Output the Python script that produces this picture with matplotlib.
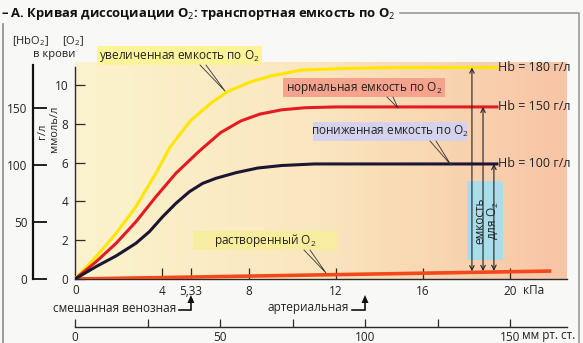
import numpy as np
import matplotlib
matplotlib.use("Agg")
import matplotlib.pyplot as plt
from matplotlib.patches import Rectangle, Polygon

plt.rcParams['font.family'] = ['Open Sans', 'DejaVu Sans']
plt.rcParams['mathtext.fontset'] = 'custom'
plt.rcParams['mathtext.rm'] = 'Open Sans'
plt.rcParams['mathtext.it'] = 'Open Sans:italic'
plt.rcParams['mathtext.bf'] = 'Open Sans:bold'

# ---------------- data ----------------
# increased capacity (Hb = 180 g/l), kPa vs mmol/l
inc_kpa = [0, 0.97, 1.89, 2.80, 3.72, 4.37, 5.3, 6.23, 7.0, 8.1, 9.0, 10.4, 12.7, 15.1, 19.4]
inc_val = [0, 1.15, 2.35, 3.73, 5.45, 6.8, 8.15, 9.05, 9.65, 10.17, 10.46, 10.77, 10.86, 10.9, 10.9]
# normal capacity (Hb = 150 g/l)
nor_kpa = [0, 0.97, 1.89, 2.80, 3.72, 4.64, 5.72, 6.7, 7.63, 8.5, 9.5, 10.6, 12.0, 19.4]
nor_val = [0, 0.89, 1.84, 2.95, 4.24, 5.45, 6.6, 7.55, 8.15, 8.5, 8.72, 8.83, 8.87, 8.87]
# decreased capacity (Hb = 100 g/l)
dec_kpa = [0, 0.97, 1.89, 2.80, 3.42, 4.03, 4.64, 5.26, 5.87, 6.48, 7.4, 8.4, 9.5, 11.0, 19.4]
dec_val = [0, 0.64, 1.19, 1.84, 2.44, 3.21, 3.90, 4.50, 4.93, 5.19, 5.48, 5.72, 5.85, 5.93, 5.93]
# dissolved O2
dis_kpa = [0, 21.9]
dis_val = [0, 0.41]

hb_labels = ["Hb = 180 г/л", "Hb = 150 г/л", "Hb = 100 г/л"]
kpa_ticks = [4, 5.33, 8, 12, 16, 20]
kpa_ticklabels = ["4", "5,33", "8", "12", "16", "20"]
mmol_ticks = [0, 2, 4, 6, 8, 10]
gl_ticks = [0, 50, 100, 150]
mmhg_ticks = [0, 50, 100, 150]
mmhg_minor = [25, 75, 125]
venous_kpa = 5.33
arterial_mmhg = 100
capacity_kpa = [18.25, 18.76, 19.26]

# ---------------- layout ----------------
W, H = 583, 343
fig = plt.figure(figsize=(W / 100, H / 100), dpi=100)
fig.patch.set_facecolor('#f8f8f6')
TXT = '#222222'
AX_C = '#2a2a2a'
FS = 8.5

def fx(px):
    return px / W

def fy(py):
    return 1 - py / H

X0, X1 = 75, 567    # px of panel
Y0, Y1 = 279, 62
PX_KPA = 21.75
PX_MMOL = 19.4
xmax = (X1 - X0) / PX_KPA
ymax = (Y0 - Y1) / PX_MMOL

ax = fig.add_axes([fx(X0), fy(Y0), fx(X1) - fx(X0), fy(Y1) - fy(Y0)])
ax.set_xlim(0, xmax)
ax.set_ylim(0, ymax)
ax.patch.set_alpha(0)

# gradient background
grad = np.linspace(0, 1, 256)
c_left = np.array([251, 243, 205]) / 255
c_mid = np.array([250, 230, 190]) / 255
c_right = np.array([248, 196, 166]) / 255
cols = np.where(grad[:, None] < 0.5,
                c_left + (c_mid - c_left) * (grad[:, None] / 0.5),
                c_mid + (c_right - c_mid) * ((grad[:, None] - 0.5) / 0.5))
ax.imshow(cols[None, :, :], extent=[0, xmax, 0, ymax], aspect='auto', zorder=0)

for s in ['top', 'right']:
    ax.spines[s].set_visible(False)
for s in ['left', 'bottom']:
    ax.spines[s].set_color(AX_C)
    ax.spines[s].set_linewidth(1.0)
ax.spines['left'].set_bounds(0, (Y0 - 67) / PX_MMOL)

ax.set_xticks(kpa_ticks)
ax.set_xticklabels(kpa_ticklabels)
ax.set_yticks(mmol_ticks)
ax.tick_params(axis='x', direction='in', length=8, width=0.9, color=AX_C,
               labelsize=FS, pad=4, labelcolor=TXT)
ax.tick_params(axis='y', direction='in', length=7, width=0.9, color=AX_C,
               labelsize=FS, pad=5, labelcolor=TXT)

# curves
ax.plot(dis_kpa, dis_val, color='#f2481c', lw=2.6, solid_capstyle='butt', zorder=3)
ax.plot(inc_kpa, inc_val, color='#ffe600', lw=2.2, zorder=4)
ax.plot(nor_kpa, nor_val, color='#e41b22', lw=2.2, zorder=4)
ax.plot(dec_kpa, dec_val, color='#1d1533', lw=2.2, zorder=4)

# Hb labels
for kp, vv, lab in zip([inc_kpa[-1], nor_kpa[-1], dec_kpa[-1]],
                       [inc_val[-1], nor_val[-1], dec_val[-1]], hb_labels):
    ax.text(kp + 0.05, vv, lab, ha='left', va='center', fontsize=9,
            color=TXT, clip_on=False, zorder=6)

# capacity box and arrows
ax.add_patch(Rectangle((18.0, 1.0), 1.68, 4.05, facecolor='#a9dde9', edgecolor='none', zorder=2))
ax.text(18.6, 3.0, "емкость", rotation=90, ha='center', va='center', fontsize=FS,
        color=TXT, zorder=5)
ax.text(19.2, 3.0, "для O$_2$", rotation=90, ha='center', va='center', fontsize=FS,
        color=TXT, zorder=5)
tops = [inc_val[-1], nor_val[-1], dec_val[-1]]
for kp, top in zip(capacity_kpa, tops):
    bottom = np.interp(kp, dis_kpa, dis_val) + 0.06
    ax.annotate("", xy=(kp, top), xytext=(kp, bottom),
                arrowprops=dict(arrowstyle='<->', lw=0.8, color=TXT,
                                shrinkA=0, shrinkB=0, mutation_scale=8), zorder=5)

# g/l axis: a narrow axes whose left spine is the g/l scale
GX = 33
gl_per_mmol = 150 / 8.81
axg = fig.add_axes([fx(GX), fy(Y0), fx(GX + 12) - fx(GX), fy(Y1) - fy(Y0)], zorder=5)
axg.patch.set_alpha(0)
axg.set_xlim(0, 1)
axg.set_ylim(0, ymax * gl_per_mmol)
for s in ['top', 'right', 'bottom']:
    axg.spines[s].set_visible(False)
axg.spines['left'].set_color('#111111')
axg.spines['left'].set_linewidth(1.6)
axg.spines['left'].set_bounds(0, (Y0 - 65) / PX_MMOL * gl_per_mmol)
axg.set_xticks([])
axg.set_yticks(gl_ticks)
axg.tick_params(axis='y', direction='in', length=10, width=1.3, color='#111111',
                labelsize=FS, pad=4, labelcolor=TXT)

# mmHg axis
MY = 327
axm = fig.add_axes([fx(X0), fy(MY), fx(X1) - fx(X0), 0.002])
axm.patch.set_alpha(0)
axm.set_xlim(0, xmax * 7.5)
for s in ['top', 'right', 'left']:
    axm.spines[s].set_visible(False)
axm.spines['bottom'].set_color(AX_C)
axm.spines['bottom'].set_linewidth(1.0)
axm.set_yticks([])
axm.set_xticks(mmhg_ticks)
axm.set_xticks(mmhg_minor, minor=True)
axm.tick_params(axis='x', which='both', direction='in', length=6, width=0.9,
                color=AX_C, labelsize=FS, pad=3, labelcolor=TXT)

# overlay in pixel coordinates for furniture
ov = fig.add_axes([0, 0, 1, 1], zorder=10)
ov.set_xlim(0, W)
ov.set_ylim(H, 0)
ov.axis('off')
ov.patch.set_alpha(0)

ov.text(X0 + 1, 291, "0", ha='center', va='center', fontsize=FS, color=TXT)
ov.text(523, 291, "кПа", ha='left', va='center', fontsize=FS, color=TXT)
ov.text(X0 + 150 / 7.5 * PX_KPA + 12, 336, "мм рт. ст.", ha='left', va='center',
        fontsize=FS, color=TXT)

ov.text(43, 131, "г/л", rotation=90, ha='center', va='center', fontsize=8, color=TXT)
ov.text(54, 129, "ммоль/л", rotation=90, ha='center', va='center', fontsize=8, color=TXT)
ov.text(30, 41, "[HbO$_2$]", ha='center', va='center', fontsize=8, color=TXT)
ov.text(73, 41, "[O$_2$]", ha='center', va='center', fontsize=8, color=TXT)
ov.text(54, 54, "в крови", ha='center', va='center', fontsize=8, color=TXT)

# label boxes with leader lines
def label_box(x0px, x1px, y0px, y1px, text, color, leader_from_px, leader_to_px):
    ov.add_patch(Rectangle((x0px, y0px), x1px - x0px, y1px - y0px,
                           facecolor=color, edgecolor='none', zorder=3))
    ov.text((x0px + x1px) / 2, (y0px + y1px) / 2, text, ha='center', va='center',
            fontsize=FS, color=TXT, zorder=4)
    lx, ly = leader_from_px
    tx, ty = leader_to_px
    ov.plot([lx - 3, tx, lx + 3], [ly, ty, ly], color='#333333', lw=0.6, zorder=3)

label_box(97, 262, 46, 65, "увеличенная емкость по O$_2$", '#fcf39a', (203, 65), (225, 91))
label_box(283, 445, 78, 97, "нормальная емкость по O$_2$", '#f5a38d', (390, 97), (398, 108))
label_box(313, 467, 122, 141, "пониженная емкость по O$_2$", '#d5d2ee', (433, 141), (451, 165))
label_box(193, 337, 231, 250, "растворенный O$_2$", '#f8ec9e', (307, 250), (326, 273))

# venous / arterial annotations
def tick_arrow(kpa, text, text_right_px):
    xp = X0 + kpa * PX_KPA
    ov.text(text_right_px, 308, text, ha='right', va='center', fontsize=FS, color=TXT)
    ov.plot([text_right_px + 3, xp, xp], [310, 310, 301], color='#111111', lw=1.2,
            solid_joinstyle='miter')
    ov.add_patch(Polygon([(xp - 3.5, 303), (xp + 3.5, 303), (xp, 295)],
                         closed=True, facecolor='#111111', edgecolor='none'))

tick_arrow(venous_kpa, "смешанная венозная", 176)
tick_arrow(arterial_mmhg / 7.5, "артериальная", 349)

# title and page frame
ov.text(1, 14, "– А. Кривая диссоциации O$_2$: транспортная емкость по O$_2$",
        ha='left', va='center', fontsize=9.4, fontweight='bold', color='#111111')
ov.plot([3, 3], [24, 343], color='#8a8a8a', lw=1.2)
ov.plot([400, 579, 579], [13, 13, 343], color='#9a9a9a', lw=1.2)

fig.savefig("out.png", dpi=100, facecolor=fig.get_facecolor())
